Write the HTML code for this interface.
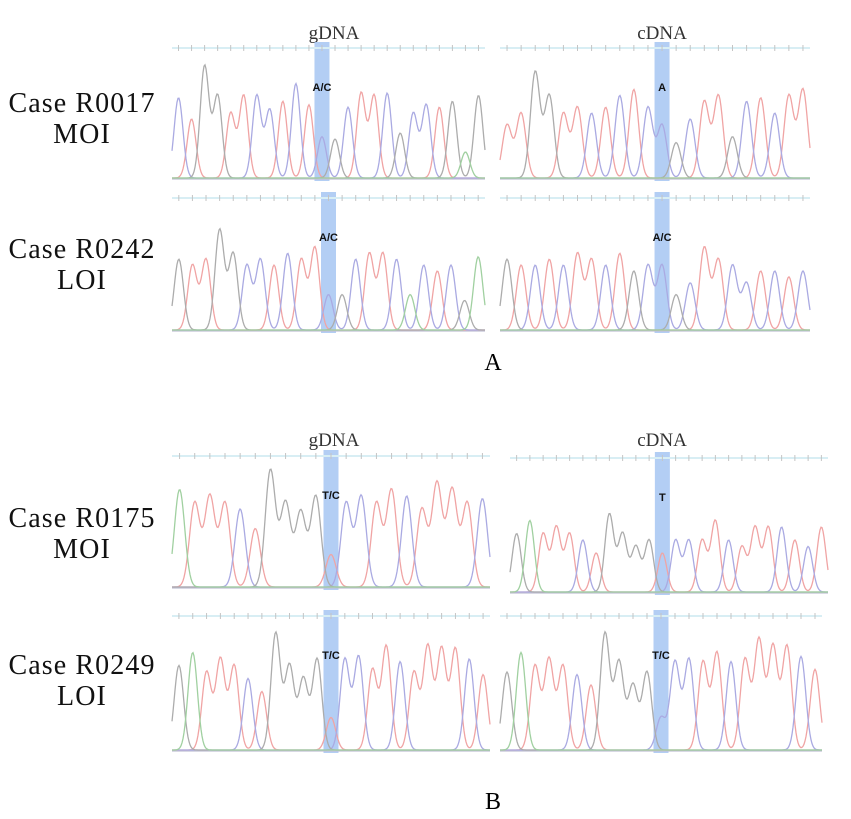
<!DOCTYPE html>
<html><head><meta charset="utf-8"><style>
body{margin:0;background:#fff;width:851px;height:814px;overflow:hidden}
svg text{font-family:"Liberation Serif",serif}
</style></head><body>
<svg id="fig" width="851" height="814" xmlns="http://www.w3.org/2000/svg">
<g font-size="28" fill="#111" text-anchor="middle" letter-spacing="1.1">
<text x="82" y="112">Case R0017</text>
<text x="82" y="143">MOI</text>
<text x="82" y="258">Case R0242</text>
<text x="82" y="289">LOI</text>
<text x="82" y="527">Case R0175</text>
<text x="82" y="558">MOI</text>
<text x="82" y="674">Case R0249</text>
<text x="82" y="705">LOI</text>
</g>
<g font-size="19" fill="#333" text-anchor="middle">
<text x="334" y="39">gDNA</text>
<text x="662" y="39">cDNA</text>
<text x="334" y="446">gDNA</text>
<text x="662" y="446">cDNA</text>
</g>
<text x="493" y="370" font-size="24" text-anchor="middle">A</text>
<text x="493" y="809" font-size="24" text-anchor="middle">B</text>
</svg>
<script>
const colA1="brggrrbbrbrbgbrrbgbbrgGg".split("");
const hA1=[.68,.5,.95,.7,.55,.7,.7,.58,.65,.8,.62,.35,.33,.6,.72,.7,.72,.38,.55,.62,.6,.65,.22,.7];
const colA2="rrggrrbrbrbbgbrrgbrbrr".split("");
const hA2=[.45,.55,.9,.7,.55,.6,.55,.6,.7,.75,.6,.45,.3,.5,.65,.7,.35,.65,.68,.55,.7,.75];
const colA3="grrggbbrbrrbgbrrbGbrbgG".split("");
const hA3=[.6,.55,.6,.85,.65,.55,.6,.55,.65,.6,.7,.3,.3,.6,.65,.65,.6,.3,.55,.5,.55,.25,.62];
const colA4="grbrbrrbrgbbgbrrbbrbrb".split("");
const hA4=[.6,.55,.55,.6,.55,.65,.6,.55,.65,.5,.55,.55,.3,.4,.7,.6,.55,.4,.5,.5,.45,.5];
const colB1="Grrrbrggggrbbrrbrrrrb".split("");
const hB1=[.75,.65,.7,.65,.6,.45,.9,.65,.58,.7,.25,.65,.7,.65,.75,.7,.6,.8,.75,.65,.68];
const colB2="gGrrrbrggggrbbrrbrrrbrbr".split("");
const hB2=[.45,.55,.45,.5,.45,.4,.3,.6,.45,.35,.4,.3,.4,.4,.4,.55,.4,.35,.5,.5,.5,.4,.35,.5];
const colB3="gGrrrbrggggrbbrrbrrrrbr".split("");
const hB3=[.65,.75,.6,.7,.65,.55,.45,.9,.65,.55,.7,.25,.7,.72,.62,.8,.68,.6,.8,.78,.78,.7,.58];
const colB4="gGrrrbrggggbbbrrbrrrrbr".split("");
const hB4=[.6,.75,.65,.7,.65,.58,.5,.9,.68,.5,.6,.25,.68,.7,.68,.75,.68,.7,.85,.8,.8,.72,.62];

const panels=[
 {n:"a-r0017-gdna",x0:172,x1:485,top:42,base:178,amp:118,col:colA1,h:hA1,band:11,lab:"A/C"},
 {n:"a-r0017-cdna",x0:500,x1:810,top:42,base:178,amp:118,col:colA2,h:hA2,band:11,lab:"A"},
 {n:"a-r0242-gdna",x0:172,x1:485,top:192,base:330,amp:118,col:colA3,h:hA3,band:11,lab:"A/C"},
 {n:"a-r0242-cdna",x0:500,x1:810,top:192,base:330,amp:118,col:colA4,h:hA4,band:11,lab:"A/C"},
 {n:"b-r0175-gdna",x0:172,x1:490,top:450,base:587,amp:130,col:colB1,h:hB1,band:10,lab:"T/C"},
 {n:"b-r0175-cdna",x0:510,x1:828,top:452,base:592,amp:130,col:colB2,h:hB2,band:11,lab:"T"},
 {n:"b-r0249-gdna",x0:172,x1:490,top:610,base:750,amp:130,col:colB3,h:hB3,band:11,lab:"T/C"},
 {n:"b-r0249-cdna",x0:500,x1:822,top:610,base:750,amp:130,col:colB4,h:hB4,band:11,lab:"T/C"}
];
const colors={r:"#f0a4a4",b:"#aaaae2",g:"#acacac",G:"#a0d0a0"};
const NS="http://www.w3.org/2000/svg";
const svg=document.getElementById("fig");
function mk(t,a){const e=document.createElementNS(NS,t);for(const k in a)e.setAttribute(k,a[k]);return e;}
panels.forEach(p=>{
 const g=mk("g",{});
 
 
 svg.appendChild(g);
 const n=p.h.length, w=p.x1-p.x0, sp=w/n, sig=sp*0.34;
 const px=i=>p.x0+(i+0.5)*sp;
 const bx=px(p.band);
 const band=mk("rect",{x:bx-7.5,y:p.top,width:15,height:p.base-p.top+3,fill:"#a6c6f2",opacity:0.85});
 
 
 g.appendChild(band);
 const rl=mk("line",{x1:p.x0,x2:p.x1,y1:p.top+6,y2:p.top+6,stroke:"#d8eef4","stroke-width":2});
 
 
 g.appendChild(rl);
 for(let i=0;i<n;i++){
  const t=mk("line",{x1:px(i),x2:px(i),y1:p.top+3,y2:p.top+9,stroke:"#c4c4c4","stroke-width":1});
  
  
  g.appendChild(t);
 }
 const bl=mk("line",{x1:p.x0,x2:p.x1,y1:p.base+1,y2:p.base+1,stroke:"#c0c0d4","stroke-width":1.2});
 
 
 g.appendChild(bl);
 ["r","b","g","G"].forEach(c=>{
  let d="";
  for(let x=p.x0;x<=p.x1;x+=1){
   let v=0;
   for(let i=0;i<n;i++){if(p.col[i]===c){const dx=x-px(i);v+=p.h[i]*Math.exp(-dx*dx/(2*sig*sig));}}
   d+=(x===p.x0?"M":"L")+x+","+(p.base-v*p.amp).toFixed(1);
  }
  const path=mk("path",{d:d,fill:"none",stroke:colors[c],"stroke-width":1.3});
  
  
  g.appendChild(path);
 });
 const lt=mk("text",{x:bx,y:p.top+49,"font-size":11,"font-weight":"bold","text-anchor":"middle",fill:"#111"});
 
 
 lt.style.fontFamily='"Liberation Sans",sans-serif';
 lt.textContent=p.lab;
 g.appendChild(lt);
});
</script>
</body></html>
